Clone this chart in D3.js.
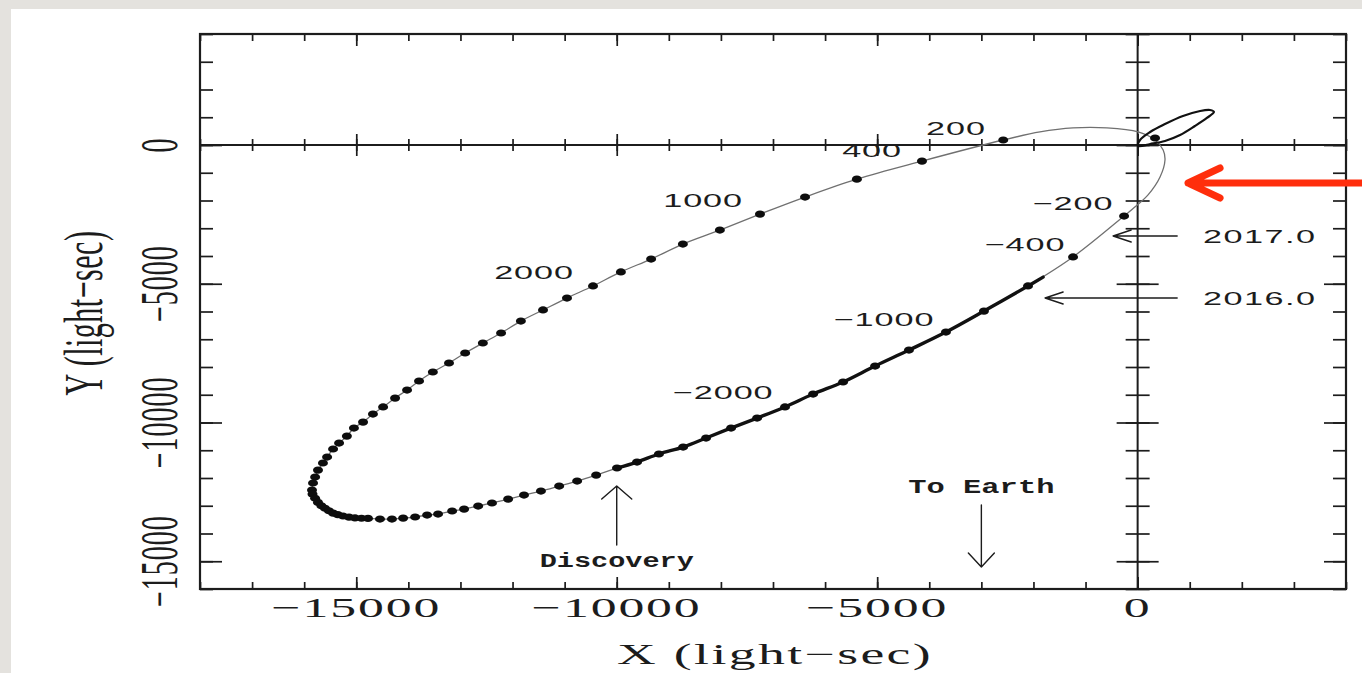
<!DOCTYPE html>
<html>
<head>
<meta charset="utf-8">
<script src="https://cdn.jsdelivr.net/npm/d3@7"></script>
<style>
  html, body { margin: 0; padding: 0; background: #e4e2de; }
  svg { display: block; }
</style>
</head>
<body>
<div id="chart"></div>
<script>
// axis ranges and tick labels (light-sec)
var xDomain = [-18000, 4000];
var yDomain = [-16000, 4000];
var xMajor = [-15000, -10000, -5000, 0];
var xLabels = ['\u221215000', '\u221210000', '\u22125000', '0'];
var yMajor = [-15000, -10000, -5000, 0];
var yLabels = ['\u221215000', '\u221210000', '\u22125000', '0'];

// pulsar positions every ~200 d, from day +200 round apastron to day -200
var dotX = [-2580, -4140, -5390, -6385, -7250, -8020, -8730, -9340, -9920, -10455,
  -10955, -11415, -11840, -12220, -12570, -12910, -13220, -13530, -13795, -14025,
  -14255, -14485, -14680, -14870, -15045, -15180, -15330, -15445, -15560, -15640,
  -15735, -15790, -15830, -15850,
  -15840, -15790, -15735, -15670, -15600, -15525, -15445, -15355, -15255, -15140, -15025, -14900, -14775,
  -14545, -14315, -14100, -13870, -13640, -13430, -13160, -12930, -12660, -12395,
  -12085, -11780, -11455, -11105, -10760, -10395, -9995, -9610, -9190, -8725,
  -8285, -7805, -7305, -6770, -6230, -5655, -5040, -4390, -3680, -2950,
  -2105, -1240, -260];
var dotY = [180, -580, -1230, -1875, -2490, -3065, -3570, -4110, -4575, -5080,
  -5515, -5945, -6345, -6775, -7135, -7495, -7855, -8180, -8505, -8830,
  -9120, -9440, -9695, -9985, -10200, -10490, -10740, -10955, -11245, -11460,
  -11715, -11965, -12180, -12435,
  -12580, -12730, -12880, -13000, -13090, -13180, -13265, -13320, -13370, -13410, -13440, -13450, -13455,
  -13480, -13480, -13445, -13405, -13335, -13300, -13190, -13120, -13010, -12900,
  -12760, -12615, -12470, -12290, -12110, -11895, -11640, -11425, -11135, -10885,
  -10560, -10200, -9840, -9440, -8975, -8540, -7965, -7390, -6740, -5985,
  -5080, -4035, -2560];

// periastron passage (no markers), from day -200 to day +200
var periX = [-30, 200, 430, 525, 490, 335, 10, -590, -1240, -1875];
var periY = [-2200, -1800, -1155, -540, -180, 180, 470, 615, 615, 470];

// observed span: discovery dot index .. last dot, then end point
var observedFrom = 63, observedTo = 77;
var observedEnd = [-1815, -4760];

// companion orbit
var compX = [10, 240, 525, 815, 1100, 1330, 1465, 1390, 1200, 870, 525, 240, 45];
var compY = [-35, 35, 145, 360, 685, 975, 1190, 1260, 1225, 1045, 755, 470, 180];
var compDot = [334, 252];

// day labels along the orbit
var dayText = ['200', '400', '1000', '2000', '\u2212200', '\u2212400', '\u22121000', '\u22122000'];
var dayX = [-3486, -5098, -8342, -11587, -1240, -2161, -4868, -7956];
var dayY = [360, -432, -2234, -4829, -2343, -3820, -6523, -9154];

// epoch arrows
var epochText = ['2017.0', '2016.0'];
var epochFrom = [[759, -3280], [759, -5514]];
var epochTo = [[-470, -3280], [-1776, -5514]];
var epochLabelX = 1255;
var epochLabelY = [-3532, -5766];

(function() {

  var width = 1362, height = 673;
  var left = 200, right = 1346, top = 34, bottom = 589;
  var stretch = 1.85;
  var ink = '#1c1c1c';
  var serif = '"Liberation Serif", "DejaVu Serif", serif';
  var sans = '"Liberation Sans", Arial, sans-serif';
  var mono = '"Liberation Mono", "Courier New", monospace';

  var svg = d3.select('#chart')
    .append('svg')
    .attr('width', width)
    .attr('height', height);

  // slide panel
  svg.append('rect')
    .attr('x', 11).attr('y', 9)
    .attr('width', width - 11).attr('height', height - 9)
    .attr('fill', '#ffffff');

  var x = d3.scaleLinear().domain(xDomain).range([left, right]);
  var y = d3.scaleLinear().domain(yDomain).range([bottom, top]);

  var minorX = d3.range(xDomain[0], xDomain[1] + 1, 1000);
  var minorY = d3.range(yDomain[0], yDomain[1] + 1, 1000);

  function tickGroup(axis, tx, ty) {
    var g = svg.append('g')
      .attr('transform', 'translate(' + tx + ',' + ty + ')')
      .call(axis.tickFormat(''));
    g.select('.domain').remove();
    g.selectAll('line').attr('stroke', ink).attr('stroke-width', 1.7);
    return g;
  }

  // frame ticks, inward
  tickGroup(d3.axisBottom(x).tickValues(minorX).tickSize(-7), 0, bottom);
  tickGroup(d3.axisBottom(x).tickValues(xMajor).tickSize(-12), 0, bottom);
  tickGroup(d3.axisTop(x).tickValues(minorX).tickSize(-7), 0, top);
  tickGroup(d3.axisTop(x).tickValues(xMajor).tickSize(-12), 0, top);
  tickGroup(d3.axisLeft(y).tickValues(minorY).tickSize(-13), left, 0);
  tickGroup(d3.axisLeft(y).tickValues(yMajor).tickSize(-22), left, 0);
  tickGroup(d3.axisRight(y).tickValues(minorY).tickSize(-13), right, 0);
  tickGroup(d3.axisRight(y).tickValues(yMajor).tickSize(-22), right, 0);

  // crossing ticks on the zero lines
  tickGroup(d3.axisBottom(x).tickValues(minorX).tickSize(6), 0, y(0));
  tickGroup(d3.axisTop(x).tickValues(minorX).tickSize(6), 0, y(0));
  tickGroup(d3.axisBottom(x).tickValues(xMajor).tickSize(11), 0, y(0));
  tickGroup(d3.axisTop(x).tickValues(xMajor).tickSize(11), 0, y(0));
  tickGroup(d3.axisLeft(y).tickValues(minorY).tickSize(12), x(0), 0);
  tickGroup(d3.axisRight(y).tickValues(minorY).tickSize(12), x(0), 0);
  tickGroup(d3.axisLeft(y).tickValues(yMajor).tickSize(21), x(0), 0);
  tickGroup(d3.axisRight(y).tickValues(yMajor).tickSize(21), x(0), 0);

  svg.append('line')
    .attr('x1', left).attr('x2', right).attr('y1', y(0)).attr('y2', y(0))
    .attr('stroke', ink).attr('stroke-width', 2);
  svg.append('line')
    .attr('x1', x(0)).attr('x2', x(0)).attr('y1', top).attr('y2', bottom)
    .attr('stroke', ink).attr('stroke-width', 2);

  svg.append('rect')
    .attr('x', left).attr('y', top)
    .attr('width', right - left).attr('height', bottom - top)
    .attr('fill', 'none')
    .attr('stroke', ink)
    .attr('stroke-width', 2.2);

  // text drawn wide, like the stretched original
  function label(str, px, py, o) {
    o = o || {};
    var sx = o.sx || stretch;
    return svg.append('text')
      .attr('transform', 'translate(' + px + ',' + py + ') scale(' + sx + ',1)' + (o.rotate ? ' rotate(-90)' : ''))
      .attr('text-anchor', o.anchor || 'middle')
      .attr('font-family', o.family || serif)
      .attr('font-size', o.size || 28)
      .attr('font-weight', o.weight || 'normal')
      .attr('letter-spacing', o.spacing || 0)
      .attr('fill', ink)
      .text(str);
  }

  xMajor.forEach(function(v, i) {
    label(xLabels[i], x(v), 617, {size: 28, spacing: 1});
  });
  yMajor.forEach(function(v, i) {
    label(yLabels[i], 177, y(v), {size: 28, spacing: 1, rotate: true});
  });
  label('X (light\u2212sec)', (left + right) / 2 + 2, 664, {size: 29, spacing: 1.3});
  label('Y (light\u2212sec)', 102, 313, {size: 30, spacing: 0.5, rotate: true});

  // orbit
  var pts = dotX.map(function(d, i) {return [d, dotY[i]]});
  var loop = pts.concat(periX.map(function(d, i) {return [d, periY[i]]}));

  var orbitLine = d3.line()
    .x(function(d) {return x(d[0])})
    .y(function(d) {return y(d[1])});

  svg.append('path')
    .attr('d', orbitLine.curve(d3.curveCatmullRomClosed.alpha(0.5))(loop))
    .attr('fill', 'none')
    .attr('stroke', '#707070')
    .attr('stroke-width', 1.3);

  var observed = pts.slice(observedFrom, observedTo + 1).concat([observedEnd]);
  svg.append('path')
    .attr('d', orbitLine.curve(d3.curveCatmullRom.alpha(0.5))(observed))
    .attr('fill', 'none')
    .attr('stroke', '#111')
    .attr('stroke-width', 3.4)
    .attr('stroke-linecap', 'round');

  svg.selectAll('ellipse.epoch')
    .data(pts)
    .enter()
    .append('ellipse')
    .attr('class', 'epoch')
    .attr('cx', function(d) {return x(d[0])})
    .attr('cy', function(d) {return y(d[1])})
    .attr('rx', 5)
    .attr('ry', 3.6)
    .attr('fill', '#0d0d0d');

  // companion orbit
  var comp = compX.map(function(d, i) {return [d, compY[i]]});
  svg.append('path')
    .attr('d', orbitLine.curve(d3.curveCatmullRomClosed.alpha(0.5))(comp))
    .attr('fill', 'none')
    .attr('stroke', '#111')
    .attr('stroke-width', 2.2);
  svg.append('ellipse')
    .attr('cx', x(compDot[0])).attr('cy', y(compDot[1]))
    .attr('rx', 5).attr('ry', 3.6)
    .attr('fill', '#0d0d0d');

  dayText.forEach(function(t, i) {
    label(t, x(dayX[i]), y(dayY[i]), {family: sans, size: 18.5, spacing: 0.5});
  });

  // arrows
  function arrow(from, to, len, half, color, w) {
    var x1 = x(from[0]), y1 = y(from[1]), x2 = x(to[0]), y2 = y(to[1]);
    var a = Math.atan2(y2 - y1, x2 - x1);
    var bx = x2 - len * Math.cos(a), by = y2 - len * Math.sin(a);
    var nx = -Math.sin(a) * half, ny = Math.cos(a) * half;
    svg.append('path')
      .attr('d', 'M' + x1 + ',' + y1 + 'L' + x2 + ',' + y2 +
        'M' + (bx + nx) + ',' + (by + ny) + 'L' + x2 + ',' + y2 + 'L' + (bx - nx) + ',' + (by - ny))
      .attr('fill', 'none')
      .attr('stroke', color || ink)
      .attr('stroke-width', w || 1.4)
      .attr('stroke-linecap', 'round')
      .attr('stroke-linejoin', 'round');
  }

  epochText.forEach(function(t, i) {
    arrow(epochFrom[i], epochTo[i], 18, 6);
    label(t, x(epochLabelX), y(epochLabelY[i]), {family: sans, size: 18.5, spacing: 0.8, anchor: 'start'});
  });

  arrow([-10000, -14416], [-10000, -12290], 13, 15);
  label('Discovery', x(-10000), y(-15209), {family: mono, size: 21, weight: 'bold', sx: 1.36});

  arrow([-3000, -12974], [-3000, -15209], 14, 13);
  label('To Earth', x(-3000), y(-12542), {family: mono, size: 21, weight: 'bold', sx: 1.45});

  // highlight arrow at periastron
  arrow([4500, -1370], [968, -1370], 32, 15, '#ff2e0c', 7);

})()
</script>
</body>
</html>
